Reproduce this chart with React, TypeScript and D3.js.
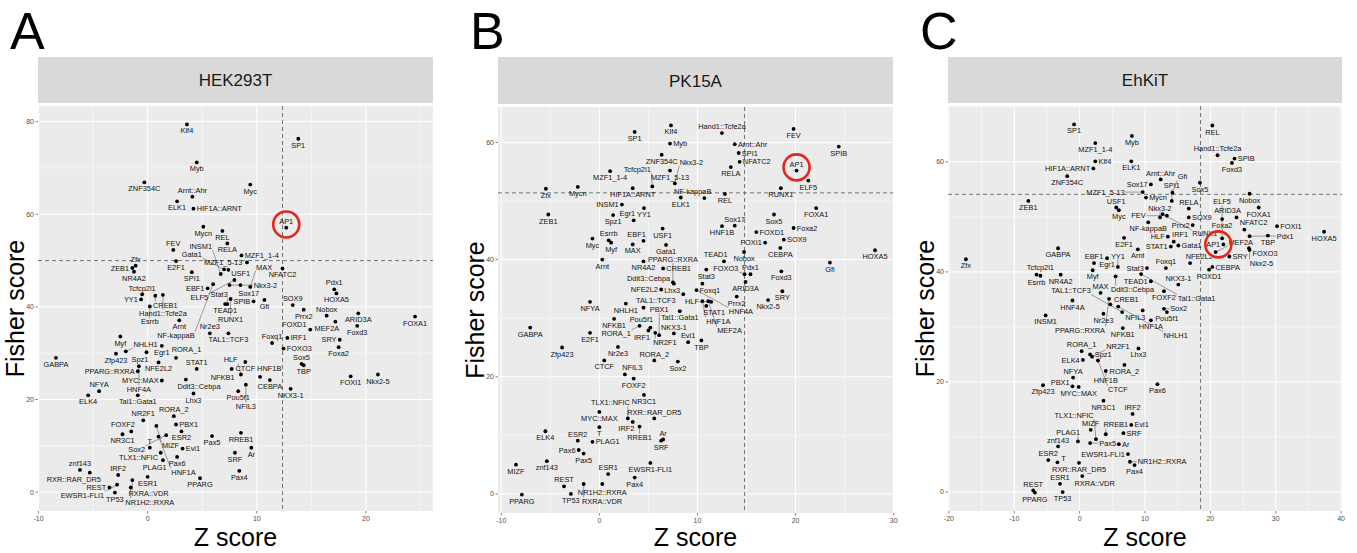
import React, { useMemo } from "react";
import * as d3 from "d3";

// [motif, Z score, Fisher score]
type Row = [string, number, number];

const hek293t: Row[] = [
  ["Klf4", 3.6, 79.4], ["SP1", 13.8, 76.3], ["Myb", 4.5, 71.2], ["ZNF354C", -0.3, 66.9], ["Myc", 9.4, 66.4],
  ["Arnt::Ahr", 4.1, 63.8], ["ELK1", 2.7, 62.8], ["HIF1A::ARNT", 4.2, 61.2], ["AP1", 12.7, 57.1], ["Mycn", 5.1, 57.3],
  ["REL", 6.85, 56.4], ["RELA", 7.3, 53.7], ["FEV", 2.35, 52.3], ["MZF1_1-4", 8.6, 51.1], ["E2F1", 2.6, 49.9],
  ["Zfx", -1.1, 48.9], ["ZEB1", -1.4, 48.4], ["MZF1_5-13", 9.1, 49.6], ["USF1", 7.4, 48.0], ["Gata1", 7.0, 48.1],
  ["NFATC2", 12.36, 48.3], ["SPI1", 4.05, 47.5], ["INSM1", 6.7, 47.1], ["NR4A2", -1.25, 47.6], ["ELF5", 7.95, 45.8],
  ["NF-kappaB", 6.0, 44.9], ["Sox17", 8.5, 44.7], ["EBF1", 5.5, 44.0], ["Nkx3-2", 7.5, 44.7], ["MAX", 9.4, 44.3],
  ["Pdx1", 17.1, 43.8], ["HOXA5", 17.3, 42.9], ["Tcfcp2l1", -0.5, 42.7], ["CREB1", 0.7, 42.4], ["Hand1::Tcfe2a", 1.4, 42.6],
  ["YY1", -0.6, 41.6], ["RUNX1", 7.6, 41.7], ["Gfi", 10.7, 41.5], ["SPIB", 9.7, 41.2], ["TEAD1", 7.1, 40.6],
  ["Stat3", 7.3, 40.6], ["Esrrb", 0.2, 40.1], ["SOX9", 13.3, 40.4], ["Prrx2", 14.3, 39.4], ["Nobox", 16.4, 38.1],
  ["ARID3A", 19.3, 38.6], ["FOXA1", 24.5, 37.9], ["MEF2A", 17.2, 36.8], ["Foxd3", 19.2, 35.9], ["FOXD1", 14.9, 35.1],
  ["Arnt", 2.9, 37.1], ["TAL1::TCF3", 7.4, 34.3], ["Nr2e3", 5.7, 34.3], ["Myf", -2.5, 33.6], ["IRF1", 12.8, 33.3],
  ["SRY", 17.6, 32.9], ["Foxq1", 11.4, 32.2], ["Foxa2", 17.5, 31.3], ["FOXO3", 12.45, 31.0], ["Egr1", 1.3, 31.6],
  ["NHLH1", -2.0, 30.4], ["Spz1", -0.1, 30.2], ["Zfp423", -2.9, 29.9], ["GABPA", -8.4, 29.0], ["RORA_1", 2.6, 29.0],
  ["CTCF", 8.95, 28.1], ["NFE2L2", 1.0, 28.0], ["Sox5", 14.1, 27.7], ["TBP", 14.3, 27.4], ["HNF4A", -0.8, 27.2],
  ["NFKB1", 7.7, 26.6], ["STAT1", 4.5, 26.6], ["PPARG::RXRA", -0.9, 26.1], ["FOXI1", 18.6, 25.0], ["Nkx2-5", 21.1, 25.4],
  ["HNF1B", 10.3, 24.9], ["HLF", 8.55, 25.4], ["Ddit3::Cebpa", 3.5, 24.3], ["CEBPA", 11.2, 24.2], ["MYC::MAX", 1.3, 24.1],
  ["NFIL3", 9.0, 23.2], ["NKX3-1", 13.1, 22.3], ["Pou5f1", 8.3, 21.8], ["NFYA", -4.45, 21.8], ["ELK4", -5.45, 20.9],
  ["Tal1::Gata1", -0.9, 20.9], ["Lhx3", 4.2, 21.3], ["RORA_2", 2.4, 16.4], ["NR2F1", -0.4, 15.5], ["MIZF", 0.8, 14.3],
  ["PBX1", 2.6, 14.6], ["FOXF2", -1.5, 13.1], ["NR3C1", -2.3, 12.5], ["Sox2", 1.7, 12.3], ["ESR2", 3.1, 13.1],
  ["HNF1A", 1.0, 12.0], ["Pax5", 5.9, 12.1], ["RREB1", 8.55, 12.8], ["T", 0.2, 9.6], ["Evi1", 3.2, 9.4],
  ["Ar", 9.5, 9.6], ["TLX1::NFIC", 1.2, 8.5], ["SRF", 8.0, 8.5], ["Pax6", 2.7, 7.6], ["PLAG1", 1.4, 6.9],
  ["znf143", -6.2, 4.8], ["Pax4", 8.4, 4.6], ["RXR::RAR_DR5", -5.3, 4.2], ["IRF2", -2.7, 3.7], ["ESR1", 0.0, 3.3],
  ["PPARG", 4.8, 3.0], ["RXRA::VDR", -1.4, 2.6], ["EWSR1-FLI1", -2.8, 1.6], ["REST", -3.5, 1.0], ["NR1H2::RXRA", -1.55, 1.0],
  ["TP53", -3.0, -0.1],
];

const pk15a: Row[] = [
  ["Klf4", 7.3, 62.9], ["SP1", 3.6, 61.8], ["Myb", 7.2, 59.8], ["ZNF354C", 6.35, 57.9], ["Myc", -0.7, 43.6],
  ["Arnt::Ahr", 13.8, 59.7], ["ELK1", 8.3, 50.6], ["HIF1A::ARNT", 3.4, 52.2], ["AP1", 20.1, 55.2], ["Mycn", -2.2, 52.4],
  ["REL", 12.8, 51.2], ["RELA", 13.4, 55.8], ["FEV", 19.8, 62.3], ["MZF1_1-4", 1.1, 55.1], ["E2F1", -0.95, 27.5],
  ["Zfx", -5.45, 52.1], ["ZEB1", -5.2, 47.7], ["MZF1_5-13", 7.2, 55.2], ["USF1", 6.45, 45.3], ["Gata1", 6.8, 42.5],
  ["NFATC2", 14.3, 56.7], ["SPI1", 14.2, 58.2], ["INSM1", 2.3, 49.4], ["NR4A2", 4.5, 39.7], ["ELF5", 21.3, 53.5],
  ["NF-kappaB", 10.7, 50.5], ["Sox17", 13.8, 45.8], ["EBF1", 4.5, 43.2], ["Nkx3-2", 7.7, 53.0], ["MAX", 3.4, 42.6],
  ["Pdx1", 15.4, 37.5], ["HOXA5", 28.1, 41.6], ["Tcfcp2l1", 5.4, 52.5], ["CREB1", 6.5, 38.5], ["Hand1::Tcfe2a", 12.5, 61.6],
  ["YY1", 4.55, 48.8], ["RUNX1", 18.5, 52.2], ["Gfi", 23.5, 39.5], ["SPIB", 24.4, 59.3], ["TEAD1", 12.7, 39.7],
  ["Stat3", 10.9, 38.3], ["Esrrb", 0.95, 43.3], ["SOX9", 18.8, 43.4], ["Prrx2", 14.0, 33.7], ["Nobox", 14.75, 41.3],
  ["ARID3A", 14.9, 36.2], ["FOXA1", 22.1, 48.8], ["MEF2A", 11.1, 32.9], ["Foxd3", 18.55, 38.0], ["FOXD1", 16.0, 44.7],
  ["Arnt", 0.3, 40.0], ["TAL1::TCF3", 4.5, 31.8], ["Nr2e3", 1.9, 25.1], ["Myf", 1.2, 42.9], ["IRF1", 5.0, 27.9],
  ["SRY", 18.65, 34.6], ["Foxq1", 10.5, 35.9], ["Foxa2", 19.8, 45.4], ["FOXO3", 14.8, 37.5], ["Egr1", 3.5, 46.7],
  ["NHLH1", 2.7, 32.5], ["Spz1", 1.4, 47.6], ["Zfp423", -3.8, 25.0], ["GABPA", -7.05, 28.4], ["RORA_1", 4.1, 28.7],
  ["CTCF", 0.5, 22.8], ["NFE2L2", 6.3, 34.9], ["Sox5", 17.8, 47.7], ["TBP", 10.4, 26.2], ["HNF4A", 9.9, 34.8],
  ["NFKB1", 1.5, 29.9], ["STAT1", 10.9, 32.1], ["PPARG::RXRA", 7.5, 36.1], ["FOXI1", 16.9, 42.9], ["Nkx2-5", 17.2, 33.1],
  ["HNF1B", 12.5, 45.7], ["HLF", 11.4, 32.8], ["Ddit3::Cebpa", 7.6, 35.9], ["CEBPA", 18.45, 42.0], ["MYC::MAX", 0.0, 14.0],
  ["NFIL3", 2.6, 20.4], ["NKX3-1", 7.6, 27.4], ["Pou5f1", 5.2, 28.4], ["NFYA", -0.95, 32.8], ["ELK4", -5.5, 10.7],
  ["Tal1::Gata1", 8.2, 31.2], ["Lhx3", 8.55, 34.1], ["RORA_2", 5.6, 22.8], ["NR2F1", 5.7, 27.5], ["MIZF", -8.5, 5.0],
  ["PBX1", 6.1, 27.1], ["FOXF2", 3.5, 19.7], ["NR3C1", 4.55, 16.9], ["Sox2", 8.0, 22.6], ["ESR2", -2.2, 9.1],
  ["HNF1A", 10.5, 32.9], ["Pax5", -1.6, 6.9], ["RREB1", 4.1, 11.5], ["T", 0.0, 11.4], ["Evi1", 9.05, 25.9],
  ["Ar", 6.5, 9.3], ["TLX1::NFIC", 2.9, 12.9], ["SRF", 6.3, 9.1], ["Pax6", -2.1, 7.5], ["PLAG1", -0.7, 8.9],
  ["znf143", -5.35, 5.6], ["Pax4", 3.6, 2.8], ["RXR::RAR_DR5", 5.6, 12.9], ["IRF2", 3.4, 12.3], ["ESR1", 0.9, 3.4],
  ["PPARG", -7.9, -0.1], ["RXRA::VDR", -1.6, 1.7], ["EWSR1-FLI1", 5.2, 5.3], ["REST", -3.6, 1.3], ["NR1H2::RXRA", 0.3, 1.7],
  ["TP53", -2.9, 0.0],
];

const ehkit: Row[] = [
  ["Klf4", 2.4, 60.1], ["SP1", -0.85, 66.8], ["Myb", 8.0, 64.7], ["ZNF354C", -1.9, 57.4], ["Myc", 6.0, 51.2],
  ["Arnt::Ahr", 12.4, 56.8], ["ELK1", 7.9, 60.1], ["HIF1A::ARNT", 2.1, 58.8], ["AP1", 22.0, 45.0], ["Mycn", 10.15, 53.5],
  ["REL", 20.3, 66.6], ["RELA", 16.7, 51.5], ["FEV", 13.35, 50.2], ["MZF1_1-4", 2.4, 63.4], ["E2F1", 6.8, 46.2],
  ["Zfx", -17.4, 42.3], ["ZEB1", -7.85, 52.9], ["MZF1_5-13", 9.65, 54.5], ["USF1", 5.6, 51.7], ["Gata1", 15.1, 44.8],
  ["NFATC2", 25.2, 47.7], ["SPI1", 14.1, 52.9], ["INSM1", -5.2, 32.1], ["NR4A2", -2.9, 39.5], ["ELF5", 21.8, 46.1],
  ["NF-kappaB", 10.5, 49.0], ["Sox17", 10.9, 55.9], ["EBF1", 2.2, 41.6], ["Nkx3-2", 12.3, 49.9], ["MAX", 3.2, 36.2],
  ["Pdx1", 26.0, 46.5], ["HOXA5", 37.4, 47.3], ["Tcfcp2l1", -6.0, 39.3], ["CREB1", 4.7, 34.1], ["Hand1::Tcfe2a", 21.1, 61.2],
  ["YY1", 5.85, 40.9], ["RUNX1", 12.7, 50.5], ["Gfi", 14.2, 54.4], ["SPIB", 23.7, 60.6], ["TEAD1", 10.9, 38.3],
  ["Stat3", 10.3, 40.7], ["Esrrb", -6.6, 39.5], ["SOX9", 16.7, 49.9], ["Prrx2", 17.3, 48.5], ["Nobox", 26.0, 54.2],
  ["ARID3A", 24.0, 49.9], ["FOXA1", 27.4, 51.7], ["MEF2A", 20.8, 43.6], ["Foxd3", 23.3, 59.8], ["FOXD1", 19.8, 40.4],
  ["Arnt", 8.9, 44.1], ["TAL1::TCF3", 6.5, 32.7], ["Nr2e3", 3.65, 32.4], ["Myf", 2.0, 40.3], ["IRF1", 14.4, 45.5],
  ["SRY", 22.9, 42.8], ["Foxq1", 13.2, 40.7], ["Foxa2", 21.8, 49.6], ["FOXO3", 25.9, 44.3], ["Egr1", 4.2, 42.5],
  ["NHLH1", 5.9, 33.7], ["Spz1", 1.6, 25.0], ["Zfp423", -5.6, 19.4], ["GABPA", -3.3, 44.3], ["RORA_1", 0.3, 25.6],
  ["CTCF", 2.8, 23.9], ["NFE2L2", 16.9, 41.6], ["Sox5", 18.4, 56.2], ["TBP", 28.8, 46.6], ["HNF4A", -1.1, 34.8],
  ["NFKB1", 6.6, 29.8], ["STAT1", 13.95, 44.6], ["PPARG::RXRA", 4.5, 35.1], ["FOXI1", 30.2, 48.3], ["Nkx2-5", 26.0, 44.0],
  ["HNF1B", 4.0, 22.0], ["HLF", 13.5, 46.4], ["Ddit3::Cebpa", 5.5, 39.2], ["CEBPA", 20.3, 40.9], ["MYC::MAX", -0.15, 19.1],
  ["NFIL3", 9.65, 33.0], ["NKX3-1", 15.1, 37.7], ["Pou5f1", 13.35, 32.7], ["NFYA", -1.0, 20.8], ["ELK4", 0.5, 24.0],
  ["Tal1::Gata1", 9.4, 39.6], ["Lhx3", 9.0, 26.1], ["RORA_2", 6.85, 23.1], ["NR2F1", 1.9, 24.6], ["MIZF", 1.7, 11.3],
  ["PBX1", -1.1, 19.2], ["FOXF2", 12.9, 36.5], ["NR3C1", 3.65, 16.6], ["Sox2", 12.9, 33.3], ["ESR2", -4.8, 5.8],
  ["HNF1A", 10.9, 31.2], ["Pax5", 1.6, 8.9], ["RREB1", 4.0, 10.5], ["T", -3.4, 5.4], ["Evi1", 7.9, 12.2],
  ["Ar", 6.0, 8.7], ["TLX1::NFIC", 2.5, 9.6], ["SRF", 6.7, 10.7], ["Pax6", 11.9, 19.6], ["PLAG1", -0.25, 9.2],
  ["znf143", -3.3, 8.3], ["Pax4", 8.4, 4.9], ["RXR::RAR_DR5", -0.1, 5.3], ["IRF2", 8.1, 14.2], ["ESR1", -3.0, 1.5],
  ["PPARG", -6.85, -0.1], ["RXRA::VDR", 0.4, 2.9], ["EWSR1-FLI1", 7.4, 6.9], ["REST", -7.1, 0.3], ["NR1H2::RXRA", 7.7, 5.5],
  ["TP53", -2.6, 0.0],
];

const panelData = [hek293t, pk15a, ehkit];
const cellLines = ["HEK293T", "PK15A", "EhKiT"];
const panelTags = ["A", "B", "C"];
const zCutoff = [12.36, 14.8, 18.5];
const fisherCutoff = [50.0, 51.4, 54.1];
const xTickValues = [[-10, 0, 10, 20], [-10, 0, 10, 20, 30], [-20, -10, 0, 10, 20, 30, 40]];
const yTickValues = [[0, 20, 40, 60, 80], [0, 20, 40, 60], [0, 20, 40, 60]];
const highlight = "AP1";

// panel boxes in the figure
const frames = [
  { left: 38, right: 433, top: 106, bottom: 511 },
  { left: 498, right: 893, top: 107, bottom: 513 },
  { left: 948, right: 1342, top: 106, bottom: 511 },
];
const STRIP_TOP = 57;
const FONT = '"Liberation Sans", Arial, Helvetica, sans-serif';
const LABEL_SIZE = 7.4;

type Lab = { name: string; ax: number; ay: number; x: number; y: number; w: number; h: number };

// greedy label placement: try spots around each point, nearest first,
// keep the first one that hits no other label, no point and stays inside the panel
function placeLabels(rows: Row[], sx: any, sy: any, f: any, measure: (s: string) => number): Lab[] {
  const pts = rows.map((r) => [sx(r[1]), sy(r[2])]);
  const h = 7.5;
  const pr = 2.2;
  const labs: Lab[] = rows.map((r, i) => ({
    name: r[0], ax: pts[i][0], ay: pts[i][1], x: pts[i][0], y: pts[i][1], w: measure(r[0]) + 1, h,
  }));
  const crowd = labs.map((l) => pts.filter((p) => Math.abs(p[0] - l.ax) < 30 && Math.abs(p[1] - l.ay) < 15).length);
  // the circled motif goes first so it sits right on top of its point
  const order = d3.range(labs.length).sort(
    (a, b) => +(labs[b].name === highlight) - +(labs[a].name === highlight) || crowd[a] - crowd[b] || a - b
  );
  const angles = [90, 270, 0, 180, 60, 120, 300, 240, 30, 150, 330, 210];
  const placed: Lab[] = [];

  const cost = (l: Lab, x: number, y: number) => {
    if (x - l.w / 2 < f.left + 1 || x + l.w / 2 > f.right - 1 || y - h / 2 < f.top + 1 || y + h / 2 > f.bottom - 1) return 99;
    let c = 0;
    for (const o of placed) {
      if (Math.abs(o.x - x) < (o.w + l.w) / 2 + 0.6 && Math.abs(o.y - y) < (o.h + h) / 2 + 0.3) c += 1;
    }
    for (const p of pts) {
      if (Math.abs(p[0] - x) < l.w / 2 + pr && Math.abs(p[1] - y) < h / 2 + pr) c += 1;
    }
    return c;
  };

  for (const i of order) {
    const l = labs[i];
    const angs = l.name === highlight ? [270, 240, 300, 180, 0, 90] : angles;
    let best = { c: Infinity, x: l.ax, y: l.ay + h };
    outer: for (let d = 0; d <= 70; d += 1.5) {
      for (const a of angs) {
        const t = (a * Math.PI) / 180;
        const x = l.ax + Math.cos(t) * (l.w / 2 + pr + 0.5 + d);
        const y = l.ay + Math.sin(t) * (h / 2 + pr + 0.5 + d);
        const c = cost(l, x, y);
        if (c < best.c) best = { c, x, y };
        if (c === 0) break outer;
      }
    }
    l.x = best.x;
    l.y = best.y;
    placed.push(l);
  }
  return labs;
}

function minorOf(major: number[], domain: number[]) {
  const step = major[1] - major[0];
  const out: number[] = [];
  for (let v = major[0] - step / 2; v <= domain[1]; v += step) if (v >= domain[0]) out.push(v);
  return out;
}

const Panel = ({ idx }: { idx: number }) => {
  const rows = panelData[idx];
  const f = frames[idx];

  const model = useMemo(() => {
    const xe = d3.extent(rows, (d) => d[1]) as [number, number];
    const ye = d3.extent(rows, (d) => d[2]) as [number, number];
    const xp = (xe[1] - xe[0]) * 0.05, yp = (ye[1] - ye[0]) * 0.05;
    const sx = d3.scaleLinear().domain([xe[0] - xp, xe[1] + xp]).range([f.left, f.right]);
    const sy = d3.scaleLinear().domain([ye[0] - yp, ye[1] + yp]).range([f.bottom, f.top]);
    const ctx = document.createElement("canvas").getContext("2d")!;
    ctx.font = `${LABEL_SIZE}px ${FONT}`;
    const labs = placeLabels(rows, sx, sy, f, (s) => ctx.measureText(s).width);
    return { sx, sy, labs };
  }, [idx]);

  const { sx, sy, labs } = model;
  const xMinor = minorOf(xTickValues[idx], sx.domain());
  const yMinor = minorOf(yTickValues[idx], sy.domain());
  const cx = (f.left + f.right) / 2;
  const cy = (f.top + f.bottom) / 2;
  const hit = labs.find((l) => l.name === highlight)!;

  return (
    <g fontFamily={FONT}>
      <text x={f.left - 28} y={49} fontSize={52} fill="#000">{panelTags[idx]}</text>
      <rect x={f.left} y={STRIP_TOP} width={f.right - f.left} height={f.top - 3 - STRIP_TOP} fill="#d9d9d9" />
      <text x={cx} y={(STRIP_TOP + f.top - 3) / 2} dy="0.36em" textAnchor="middle" fontSize={17} fill="#1a1a1a">
        {cellLines[idx]}
      </text>
      <rect x={f.left} y={f.top} width={f.right - f.left} height={f.bottom - f.top} fill="#ebebeb" />
      {xMinor.map((v) => (
        <line key={"xm" + v} x1={sx(v)} x2={sx(v)} y1={f.top} y2={f.bottom} stroke="#fff" strokeWidth={0.5} />
      ))}
      {yMinor.map((v) => (
        <line key={"ym" + v} x1={f.left} x2={f.right} y1={sy(v)} y2={sy(v)} stroke="#fff" strokeWidth={0.5} />
      ))}
      {xTickValues[idx].map((v) => (
        <line key={"xg" + v} x1={sx(v)} x2={sx(v)} y1={f.top} y2={f.bottom} stroke="#fff" strokeWidth={1} />
      ))}
      {yTickValues[idx].map((v) => (
        <line key={"yg" + v} x1={f.left} x2={f.right} y1={sy(v)} y2={sy(v)} stroke="#fff" strokeWidth={1} />
      ))}
      <line x1={sx(zCutoff[idx])} x2={sx(zCutoff[idx])} y1={f.top} y2={f.bottom} stroke="#555" strokeWidth={0.8} strokeDasharray="4,3" />
      <line x1={f.left} x2={f.right} y1={sy(fisherCutoff[idx])} y2={sy(fisherCutoff[idx])} stroke="#555" strokeWidth={0.8} strokeDasharray="4,3" />
      {labs.map((l) => {
        const px = Math.max(l.x - l.w / 2, Math.min(l.x + l.w / 2, l.ax));
        const py = Math.max(l.y - l.h / 2, Math.min(l.y + l.h / 2, l.ay));
        const dist = Math.hypot(px - l.ax, py - l.ay);
        if (dist < 5) return null;
        return <line key={"s" + l.name} x1={l.ax} y1={l.ay} x2={px} y2={py} stroke="#444" strokeWidth={0.5} />;
      })}
      {rows.map((r) => (
        <circle key={"p" + r[0]} cx={sx(r[1])} cy={sy(r[2])} r={1.9} fill="#000" />
      ))}
      {labs.map((l) => (
        <text key={"t" + l.name} x={l.x} y={l.y} dy="0.35em" textAnchor="middle" fontSize={LABEL_SIZE} fill="#111">
          {l.name}
        </text>
      ))}
      <circle
        cx={(hit.x + hit.ax) / 2}
        cy={(hit.y + hit.ay) / 2}
        r={13}
        fill="none"
        stroke="#e5261c"
        strokeWidth={2.6}
      />
      {xTickValues[idx].map((v) => (
        <g key={"xt" + v}>
          <line x1={sx(v)} x2={sx(v)} y1={f.bottom} y2={f.bottom + 2.5} stroke="#333" strokeWidth={0.6} />
          <text x={sx(v)} y={f.bottom + 10} textAnchor="middle" fontSize={7} fill="#4d4d4d">{v}</text>
        </g>
      ))}
      {yTickValues[idx].map((v) => (
        <g key={"yt" + v}>
          <line x1={f.left - 2.5} x2={f.left} y1={sy(v)} y2={sy(v)} stroke="#333" strokeWidth={0.6} />
          <text x={f.left - 4} y={sy(v)} dy="0.35em" textAnchor="end" fontSize={7} fill="#4d4d4d">{v}</text>
        </g>
      ))}
      <text x={cx} y={546} textAnchor="middle" fontSize={25} fill="#000">Z score</text>
      <text transform={`translate(${f.left - 14},${cy}) rotate(-90)`} textAnchor="middle" fontSize={25} fill="#000">
        Fisher score
      </text>
    </g>
  );
};

const App = () => {
  return (
    <svg width={1357} height={553} style={{ position: "absolute", left: 0, top: 0, background: "#fff" }}>
      {panelData.map((_, i) => (
        <Panel key={i} idx={i} />
      ))}
    </svg>
  );
};

export default App;
